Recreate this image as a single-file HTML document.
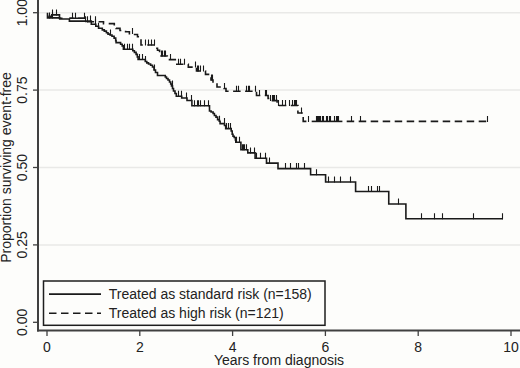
<!DOCTYPE html>
<html><head><meta charset="utf-8"><title>Kaplan-Meier</title>
<style>html,body{margin:0;padding:0;background:#fdfdfb;} body{width:520px;height:368px;position:relative;overflow:hidden;font-family:"Liberation Sans",sans-serif;}</style>
</head><body>
<svg width="520" height="368" viewBox="0 0 520 368" style="position:absolute;left:0;top:0">
<line x1="39" y1="12.70" x2="520" y2="12.70" stroke="#e9e9e7" stroke-width="1.5"/>
<line x1="39" y1="90.10" x2="520" y2="90.10" stroke="#e9e9e7" stroke-width="1.5"/>
<line x1="39" y1="167.50" x2="520" y2="167.50" stroke="#e9e9e7" stroke-width="1.5"/>
<line x1="39" y1="244.90" x2="520" y2="244.90" stroke="#e9e9e7" stroke-width="1.5"/>
<line x1="38" y1="0" x2="38" y2="331.5" stroke="#404040" stroke-width="2"/>
<line x1="37" y1="330.5" x2="520" y2="330.5" stroke="#404040" stroke-width="2"/>
<line x1="33" y1="322.30" x2="38" y2="322.30" stroke="#404040" stroke-width="1.3"/>
<text x="0" y="0" transform="translate(27,322.30) rotate(-90)" text-anchor="middle" font-family="Liberation Sans" font-size="14" fill="#222">0.00</text>
<line x1="33" y1="244.90" x2="38" y2="244.90" stroke="#404040" stroke-width="1.3"/>
<text x="0" y="0" transform="translate(27,244.90) rotate(-90)" text-anchor="middle" font-family="Liberation Sans" font-size="14" fill="#222">0.25</text>
<line x1="33" y1="167.50" x2="38" y2="167.50" stroke="#404040" stroke-width="1.3"/>
<text x="0" y="0" transform="translate(27,167.50) rotate(-90)" text-anchor="middle" font-family="Liberation Sans" font-size="14" fill="#222">0.50</text>
<line x1="33" y1="90.10" x2="38" y2="90.10" stroke="#404040" stroke-width="1.3"/>
<text x="0" y="0" transform="translate(27,90.10) rotate(-90)" text-anchor="middle" font-family="Liberation Sans" font-size="14" fill="#222">0.75</text>
<line x1="33" y1="12.70" x2="38" y2="12.70" stroke="#404040" stroke-width="1.3"/>
<text x="0" y="0" transform="translate(27,12.70) rotate(-90)" text-anchor="middle" font-family="Liberation Sans" font-size="14" fill="#222">1.00</text>
<line x1="47.00" y1="331" x2="47.00" y2="336" stroke="#404040" stroke-width="1.3"/>
<text x="47.00" y="352" text-anchor="middle" font-family="Liberation Sans" font-size="14" fill="#222">0</text>
<line x1="139.80" y1="331" x2="139.80" y2="336" stroke="#404040" stroke-width="1.3"/>
<text x="139.80" y="352" text-anchor="middle" font-family="Liberation Sans" font-size="14" fill="#222">2</text>
<line x1="232.60" y1="331" x2="232.60" y2="336" stroke="#404040" stroke-width="1.3"/>
<text x="232.60" y="352" text-anchor="middle" font-family="Liberation Sans" font-size="14" fill="#222">4</text>
<line x1="325.40" y1="331" x2="325.40" y2="336" stroke="#404040" stroke-width="1.3"/>
<text x="325.40" y="352" text-anchor="middle" font-family="Liberation Sans" font-size="14" fill="#222">6</text>
<line x1="418.20" y1="331" x2="418.20" y2="336" stroke="#404040" stroke-width="1.3"/>
<text x="418.20" y="352" text-anchor="middle" font-family="Liberation Sans" font-size="14" fill="#222">8</text>
<line x1="511.00" y1="331" x2="511.00" y2="336" stroke="#404040" stroke-width="1.3"/>
<text x="511.00" y="352" text-anchor="middle" font-family="Liberation Sans" font-size="14" fill="#222">10</text>
<text x="0" y="0" transform="translate(11,167.50) rotate(-90)" text-anchor="middle" font-family="Liberation Sans" font-size="14" fill="#222">Proportion surviving event-free</text>
<text x="279" y="365" text-anchor="middle" font-family="Liberation Sans" font-size="14" fill="#222">Years from diagnosis</text>
<path d="M47.50,12.70 L47.50,17.90 L59.70,17.90 L59.70,19.00 L69.40,19.00 L69.40,21.10 L91.30,21.10 L91.30,24.20 L95.80,24.20 L95.80,26.20 L98.60,26.20 L98.60,28.30 L102.30,28.30 L102.30,29.90 L104.30,29.90 L104.30,31.10 L106.40,31.10 L106.40,32.70 L108.00,32.70 L108.00,34.10 L110.00,34.10 L110.00,35.00 L112.00,35.00 L112.00,36.30 L114.10,36.30 L114.10,38.10 L115.70,38.10 L115.70,40.60 L116.10,40.60 L116.10,42.60 L120.60,42.60 L120.60,44.30 L122.20,44.30 L122.20,45.90 L123.40,45.90 L123.40,49.20 L132.80,49.20 L132.80,50.80 L134.40,50.80 L134.40,52.40 L136.10,52.40 L136.10,54.40 L137.30,54.40 L137.30,56.90 L138.10,56.90 L138.10,59.50 L145.30,59.50 L145.30,61.50 L146.80,61.50 L146.80,62.90 L148.50,62.90 L148.50,64.00 L150.60,64.00 L150.60,65.30 L152.50,65.30 L152.50,67.00 L154.00,67.00 L154.00,70.00 L155.50,70.00 L155.50,72.50 L157.50,72.50 L157.50,75.50 L165.30,75.50 L165.30,77.00 L166.50,77.00 L166.50,78.50 L168.00,78.50 L168.00,80.00 L169.50,80.00 L169.50,82.00 L170.70,82.00 L170.70,84.00 L171.50,84.00 L171.50,86.00 L172.50,86.00 L172.50,88.50 L173.50,88.50 L173.50,91.00 L175.00,91.00 L175.00,93.50 L176.30,93.50 L176.30,96.20 L181.70,96.20 L181.70,98.00 L187.00,98.00 L187.00,100.50 L191.90,100.50 L191.90,105.80 L209.50,105.80 L209.50,111.00 L211.10,111.00 L211.10,112.00 L213.10,112.00 L213.10,113.50 L214.40,113.50 L214.40,115.50 L216.00,115.50 L216.00,117.10 L217.60,117.10 L217.60,119.60 L219.30,119.60 L219.30,121.20 L220.10,121.20 L220.10,123.60 L224.50,123.60 L224.50,125.50 L225.70,125.50 L225.70,128.60 L231.20,128.60 L231.20,131.00 L232.20,131.00 L232.20,134.30 L233.00,134.30 L233.00,136.30 L234.20,136.30 L234.20,137.50 L235.40,137.50 L235.40,140.00 L235.80,140.00 L235.80,142.30 L240.90,142.30 L240.90,149.70 L247.80,149.70 L247.80,152.90 L255.10,152.90 L255.10,158.20 L266.50,158.20 L266.50,163.10 L278.00,163.10 L278.00,168.60 L310.60,168.60 L310.60,174.75 L325.60,174.75 L325.60,182.00 L355.60,182.00 L355.60,191.50 L388.75,191.50 L388.75,204.00 L405.90,204.00 L405.90,218.75 L503.00,218.75" fill="none" stroke="#1a1a1a" stroke-width="1.6"/>
<path d="M49.5,18.40 V12.40 M52.5,18.40 V12.40 M90.5,21.60 V15.60 M95.5,24.70 V18.70 M98.5,28.80 V22.80 M110.5,35.50 V29.50 M124.5,49.70 V43.70 M127.5,49.70 V43.70 M129.5,49.70 V43.70 M132.5,49.70 V43.70 M139.5,60.00 V54.00 M142.5,60.00 V54.00 M145.5,62.00 V56.00 M154.5,70.50 V64.50 M172.5,86.50 V80.50 M178.5,96.70 V90.70 M181.5,96.70 V90.70 M186.5,98.50 V92.50 M191.5,101.00 V95.00 M194.5,106.30 V100.30 M197.5,106.30 V100.30 M198.5,106.30 V100.30 M200.5,106.30 V100.30 M204.5,106.30 V100.30 M208.5,106.30 V100.30 M219.5,121.70 V115.70 M224.5,124.10 V118.10 M226.5,129.10 V123.10 M228.5,129.10 V123.10 M230.5,129.10 V123.10 M236.5,142.80 V136.80 M239.5,142.80 V136.80 M242.5,150.20 V144.20 M243.5,150.20 V144.20 M244.5,150.20 V144.20 M246.5,150.20 V144.20 M250.5,153.40 V147.40 M254.5,153.40 V147.40 M256.5,158.70 V152.70 M260.5,158.70 V152.70 M265.5,158.70 V152.70 M269.5,163.60 V157.60 M285.5,169.10 V163.10 M290.5,169.10 V163.10 M296.5,169.10 V163.10 M298.5,169.10 V163.10 M304.5,169.10 V163.10 M316.5,175.25 V169.25 M328.5,182.50 V176.50 M334.5,182.50 V176.50 M340.5,182.50 V176.50 M350.5,182.50 V176.50 M368.5,192.00 V186.00 M371.5,192.00 V186.00 M377.5,192.00 V186.00 M379.5,192.00 V186.00 M398.5,204.50 V198.50 M421.5,219.25 V213.25 M434.5,219.25 V213.25 M442.5,219.25 V213.25 M473.5,219.25 V213.25 M502.5,219.25 V213.25 " fill="none" stroke="#1a1a1a" stroke-width="1.1"/>
<path d="M52.5,14.9 H59.5 V18.2 H62.5 M69.4,18.2 H85.5 M48.2,16.4 H51.8" fill="none" stroke="#1a1a1a" stroke-width="1.6"/>
<path d="M51.5,18 V14" fill="none" stroke="#1a1a1a" stroke-width="1.1"/>
<path d="M69.40,18.20 L85.50,18.20 L85.50,21.70 L103.50,21.70 L103.50,23.60 L114.30,23.60 L114.30,25.60 L116.00,25.60 L116.00,28.40 L120.00,28.40 L120.00,30.50 L125.60,30.50 L125.60,31.75 L129.40,31.75 L129.40,33.60 L133.00,33.60 L133.00,34.50 L137.50,34.50 L137.50,36.75 L141.00,36.75 L141.00,45.00 L155.50,45.00 L155.50,48.20 L157.50,48.20 L157.50,50.30 L159.60,50.30 L159.60,52.30 L160.20,52.30 L160.20,56.00 L167.30,56.00 L167.30,59.60 L175.30,59.60 L175.30,64.30 L188.30,64.30 L188.30,67.10 L196.50,67.10 L196.50,71.00 L205.50,71.00 L205.50,74.40 L208.50,74.40 L208.50,77.00 L211.00,77.00 L211.00,80.00 L213.00,80.00 L213.00,83.00 L217.00,83.00 L217.00,87.00 L224.00,87.00 L224.00,88.50 L226.00,88.50 L226.00,91.20 L256.50,91.20 L256.50,95.50 L268.10,95.50 L268.10,98.50 L269.50,98.50 L269.50,100.60 L277.10,100.60 L277.10,105.50 L297.90,105.50 L297.90,113.00 L303.20,113.00 L303.20,121.40 L306.50,121.40" fill="none" stroke="#1a1a1a" stroke-width="1.6" stroke-dasharray="7.5 4.5" stroke-dashoffset="3.30"/>
<path d="M311.7,121.4 H342.4" fill="none" stroke="#1a1a1a" stroke-width="1.6"/>
<path d="M346.7,121.4 H487.25" fill="none" stroke="#1a1a1a" stroke-width="1.6" stroke-dasharray="7.5 4.5"/>
<path d="M52.5,15.40 V9.40 M56.5,15.40 V9.40 M72.5,18.70 V12.70 M75.5,18.70 V12.70 M84.5,18.70 V12.70 M85.5,22.20 V16.20 M87.5,22.20 V16.20 M95.5,22.20 V16.20 M132.5,34.10 V28.10 M145.5,45.50 V39.50 M148.5,45.50 V39.50 M151.5,45.50 V39.50 M154.5,45.50 V39.50 M161.5,56.50 V50.50 M162.5,56.50 V50.50 M164.5,56.50 V50.50 M165.5,56.50 V50.50 M170.5,60.10 V54.10 M178.5,64.80 V58.80 M180.5,64.80 V58.80 M184.5,64.80 V58.80 M195.5,67.60 V61.60 M197.5,71.50 V65.50 M198.5,71.50 V65.50 M200.5,71.50 V65.50 M203.5,71.50 V65.50 M211.5,80.50 V74.50 M212.5,80.50 V74.50 M224.5,89.00 V83.00 M236.5,91.70 V85.70 M238.5,91.70 V85.70 M246.5,91.70 V85.70 M248.5,91.70 V85.70 M249.5,91.70 V85.70 M255.5,91.70 V85.70 M259.5,96.00 V90.00 M265.5,96.00 V90.00 M266.5,96.00 V90.00 M270.5,101.10 V95.10 M272.5,101.10 V95.10 M273.5,101.10 V95.10 M274.5,101.10 V95.10 M276.5,101.10 V95.10 M278.5,106.00 V100.00 M282.5,106.00 V100.00 M285.5,106.00 V100.00 M289.5,106.00 V100.00 M292.5,106.00 V100.00 M294.5,106.00 V100.00 M295.5,106.00 V100.00 M296.5,106.00 V100.00 M301.5,113.50 V107.50 M308.5,121.90 V115.90 M316.5,121.90 V115.90 M317.5,121.90 V115.90 M318.5,121.90 V115.90 M319.5,121.90 V115.90 M320.5,121.90 V115.90 M322.5,121.90 V115.90 M323.5,121.90 V115.90 M326.5,121.90 V115.90 M327.5,121.90 V115.90 M329.5,121.90 V115.90 M330.5,121.90 V115.90 M334.5,121.90 V115.90 M336.5,121.90 V115.90 M337.5,121.90 V115.90 M338.5,121.90 V115.90 M351.5,121.90 V115.90 M360.5,121.90 V115.90 M487.5,121.90 V115.90 " fill="none" stroke="#1a1a1a" stroke-width="1.1"/>
<rect x="43.5" y="281" width="281.5" height="44.3" fill="#fdfdfb" stroke="#1e1e1e" stroke-width="1.5"/>
<line x1="49" y1="294.1" x2="101" y2="294.1" stroke="#1a1a1a" stroke-width="1.6"/>
<line x1="49" y1="313.2" x2="101" y2="313.2" stroke="#1a1a1a" stroke-width="1.6" stroke-dasharray="7.5 4.5"/>
<text x="108.8" y="299" font-family="Liberation Sans" font-size="14" fill="#222">Treated as standard risk (n=158)</text>
<text x="108.8" y="317.5" font-family="Liberation Sans" font-size="14" fill="#222">Treated as high risk (n=121)</text>
</svg>
</body></html>
